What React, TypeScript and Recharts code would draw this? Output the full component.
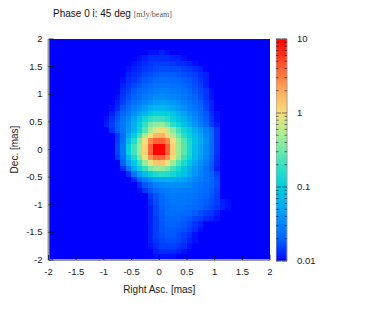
import { Bar, ComposedChart, Scatter, ScatterChart, XAxis, YAxis } from "recharts"

// brightness in mJy/beam, top row first, each row starting at rowStart
const floorValue = 0.01
const gridSize = 40
const rowStart = [
    0, 0, 18, 16, 15, 14, 14, 13, 13, 13,
    12, 12, 11, 11, 10, 10, 11, 12, 12, 12,
    12, 12, 13, 13, 14, 15, 16, 16, 18, 18,
    18, 18, 18, 18, 18, 18, 18, 18, 19, 19,
]
const rowValues = [
    [],
    [],
    [.011, .011, .012, .011],
    [.011, .012, .013, .013, .013, .013, .012, .012, .011],
    [.011, .012, .013, .014, .015, .015, .015, .014, .013, .013, .012, .011],
    [.011, .012, .013, .014, .015, .016, .017, .017, .016, .016, .015, .014, .013, .012],
    [.012, .013, .014, .016, .017, .018, .019, .019, .019, .018, .017, .016, .015, .013, .012],
    [.011, .013, .014, .016, .018, .019, .021, .022, .022, .021, .02, .019, .018, .016, .014, .012],
    [.012, .014, .016, .018, .02, .022, .024, .025, .025, .024, .023, .021, .019, .017, .015, .012],
    [.013, .015, .018, .02, .023, .025, .028, .029, .029, .028, .026, .024, .021, .018, .016, .014, .011],
    [.011, .014, .017, .02, .023, .027, .03, .034, .035, .034, .032, .029, .026, .023, .02, .017, .014, .011],
    [.012, .015, .019, .024, .028, .033, .038, .045, .048, .046, .042, .036, .031, .027, .023, .019, .015, .012],
    [.011, .013, .018, .023, .03, .036, .045, .06, .068, .07, .064, .055, .045, .036, .03, .025, .02, .016, .012],
    [.012, .016, .021, .027, .036, .048, .065, .09, .11, .11, .1, .08, .062, .048, .037, .029, .023, .018, .013, .011],
    [.011, .014, .018, .025, .034, .05, .075, .12, .18, .21, .2, .16, .11, .08, .06, .044, .033, .025, .019, .014, .011],
    [.012, .015, .02, .027, .038, .06, .1, .2, .33, .42, .42, .3, .18, .12, .08, .058, .04, .03, .022, .015, .012],
    [.014, .019, .027, .04, .065, .12, .25, .5, .85, .95, .7, .38, .22, .13, .09, .06, .042, .03, .022, .014],
    [.014, .022, .05, .1, .22, .5, 1, 1.7, 1.8, 1.1, .55, .3, .17, .11, .075, .05, .034, .023, .014],
    [.015, .025, .07, .16, .38, .95, 2.8, 4, 4, 2.8, 1, .45, .24, .14, .085, .055, .036, .023, .014],
    [.016, .028, .105, .22, .45, 1.15, 4, 10, 10, 4, 1.2, .48, .26, .14, .075, .05, .034, .022, .014],
    [.016, .028, .105, .22, .45, 1.15, 3.9, 9.8, 9.8, 3.9, 1.2, .48, .26, .14, .075, .05, .034, .022, .014],
    [.014, .024, .065, .15, .35, .85, 2.5, 3.8, 3.8, 2.5, .95, .42, .21, .12, .07, .046, .032, .021, .013],
    [.02, .045, .09, .2, .42, .85, 1.4, 1.4, .9, .45, .24, .14, .085, .055, .038, .028, .019, .013],
    [.013, .026, .055, .11, .2, .33, .42, .42, .33, .22, .14, .09, .06, .042, .032, .024, .018, .012],
    [.013, .025, .045, .075, .11, .15, .17, .16, .13, .1, .075, .055, .04, .031, .025, .02, .015],
    [.013, .021, .03, .04, .05, .058, .06, .058, .052, .047, .04, .033, .028, .024, .021, .017],
    [.013, .018, .023, .03, .034, .036, .037, .037, .035, .032, .028, .025, .022, .02, .017],
    [.011, .014, .018, .022, .026, .028, .03, .03, .029, .028, .026, .023, .021, .019, .016],
    [.014, .018, .022, .026, .027, .027, .027, .026, .024, .022, .02, .018, .015],
    [.013, .017, .021, .024, .025, .026, .026, .025, .023, .021, .019, .017, .015, .012, .011],
    [.012, .016, .02, .023, .024, .024, .024, .023, .021, .02, .018, .016, .014, .012, .011],
    [.012, .016, .019, .022, .023, .023, .022, .021, .019, .017, .015, .014, .012],
    [.012, .015, .019, .021, .021, .021, .019, .018, .016, .015, .013, .012, .011],
    [.012, .015, .018, .02, .02, .019, .018, .016, .014, .012],
    [.012, .015, .018, .019, .019, .018, .017, .015, .013, .011],
    [.012, .015, .017, .018, .018, .017, .015, .013, .011],
    [.012, .014, .016, .017, .017, .016, .014, .012, .011],
    [.011, .013, .015, .015, .015, .014, .013, .011],
    [.012, .013, .013, .013, .012, .011],
    [.011, .011, .011, .011],
]

const axisTicks = [-2, -1.5, -1, -0.5, 0, 0.5, 1, 1.5, 2]
const barMajorTicks = [0.01, 0.1, 1, 10]
const barMinorTicks = [
    0.02, 0.03, 0.04, 0.05, 0.06, 0.07, 0.08, 0.09,
    0.2, 0.3, 0.4, 0.5, 0.6, 0.7, 0.8, 0.9,
    2, 3, 4, 5, 6, 7, 8, 9,
]

// colour ramp: position along the log scale and colour
const rampStops = [0, 0.03, 0.1, 0.233, 0.333, 0.43, 0.49, 0.57, 0.667, 0.77, 0.85, 0.93, 1]
const rampColors = [
    [0, 0, 255], [0, 35, 255], [0, 100, 255], [0, 165, 245], [0, 208, 222], [50, 225, 195], [105, 232, 172],
    [170, 238, 145], [248, 222, 122], [255, 170, 90], [255, 110, 60], [255, 50, 25], [255, 0, 0],
]

const FRAME = "#9a9a9a"
const TICK = "rgba(15,15,40,0.8)"
const TEXT = "#222"
const FONT = "'Liberation Sans', Arial, sans-serif"

const chartMargin = { top: 39, right: 104, bottom: 24, left: 0 }
const barMargin = { top: 8, right: 0, bottom: 8, left: 0 }
const overlay = { position: "absolute", left: 0, top: 0 } as const
const barOverlay = { position: "absolute", left: 276, top: 31 } as const

function colorFor(value: number) {
    const t = Math.min(1, Math.max(0, (Math.log10(value) + 2) / 3))
    let i = 0
    while (i < rampStops.length - 2 && t > rampStops[i + 1]) i++
    const f = (t - rampStops[i]) / (rampStops[i + 1] - rampStops[i])
    const [a, b] = [rampColors[i], rampColors[i + 1]]
    return `rgb(${a.map((c, k) => Math.round(c + (b[k] - c) * f)).join(",")})`
}

const cells = rowValues.flatMap((row, r) =>
    Array.from({ length: gridSize }, (_, c) => ({
        x: -2 + (c + 0.5) * 0.1,
        y: 2 - (r + 0.5) * 0.1,
        value: row[c - rowStart[r]] ?? floorValue,
    })),
)
const anchorCell = cells.slice(0, 1)

const colorBarData = [{ name: "scale", range: [0.01, 10] }]

function Cell(props: any) {
    const value = props.payload?.value ?? props.value
    return (
        <rect
            x={props.cx - 3}
            y={props.cy - 3}
            width={6}
            height={6}
            fill={colorFor(value)}
            shapeRendering="crispEdges"
        />
    )
}

const NoMark = () => null

const BottomTick = ({ x, y, payload }: any) => (
    <g>
        <line x1={x} x2={x} y1={y} y2={y - 5} stroke={TICK} />
        <text x={x} y={y + 15} textAnchor="middle" fontSize={9.5} fontFamily={FONT} fill={TEXT}>
            {payload.value}
        </text>
    </g>
)
const TopTick = ({ x, y }: any) => <line x1={x} x2={x} y1={y} y2={y + 5} stroke={TICK} />
const LeftTick = ({ x, y, payload }: any) => (
    <g>
        <line x1={x} x2={x + 5} y1={y} y2={y} stroke={TICK} />
        <text x={x - 6} y={y + 3} textAnchor="end" fontSize={9.5} fontFamily={FONT} fill={TEXT}>
            {payload.value}
        </text>
    </g>
)
const RightTick = ({ x, y }: any) => <line x1={x} x2={x - 5} y1={y} y2={y} stroke={TICK} />

const BarTick = ({ x, y, payload }: any) => {
    const major = barMajorTicks.includes(payload.value)
    const len = major ? 5 : 2.5
    return (
        <g>
            <line x1={x - 11} x2={x - 11 + len} y1={y} y2={y} stroke={TICK} strokeWidth={0.7} />
            <line x1={x} x2={x - len} y1={y} y2={y} stroke={TICK} strokeWidth={0.7} />
            {major && (
                <text x={x + 10} y={y + 3} fontSize={9.5} fontFamily={FONT} fill={TEXT}>
                    {payload.value}
                </text>
            )}
        </g>
    )
}

export default function App() {
    return (
        <div style={{ position: "absolute", left: 0, top: 0, width: 374, height: 314, background: "#fff" }}>
            <div
                style={{
                    position: "absolute",
                    left: 53,
                    top: 8,
                    fontFamily: FONT,
                    fontSize: 10,
                    lineHeight: "12px",
                    color: "#111",
                    whiteSpace: "nowrap",
                }}
            >
                Phase 0 i: 45 deg{" "}
                <span style={{ fontFamily: "'Liberation Serif', serif", fontSize: 8, color: "#555" }}>[mJy/beam]</span>
            </div>

            {/* map cells underneath, the axes go in a second chart on top so ticks stay visible */}
            <ScatterChart width={374} height={314} margin={chartMargin} style={overlay}>
                <XAxis type="number" dataKey="x" domain={[-2, 2]} height={30} tick={false} axisLine={false} />
                <YAxis type="number" dataKey="y" domain={[-2, 2]} width={48.5} tick={false} axisLine={false} />
                <Scatter data={cells} shape={Cell} isAnimationActive={false} />
            </ScatterChart>

            <ScatterChart width={374} height={314} margin={chartMargin} style={overlay}>
                <XAxis
                    type="number"
                    dataKey="x"
                    domain={[-2, 2]}
                    ticks={axisTicks}
                    interval={0}
                    height={30}
                    tick={BottomTick}
                    tickLine={false}
                    tickSize={0}
                    tickMargin={0}
                    axisLine={{ stroke: FRAME, strokeWidth: 2 }}
                    label={{ value: "Right Asc. [mas]", position: "bottom", offset: -4, fontSize: 10, fontFamily: FONT, fill: TEXT }}
                />
                <XAxis
                    xAxisId="top"
                    orientation="top"
                    type="number"
                    dataKey="x"
                    domain={[-2, 2]}
                    ticks={axisTicks}
                    interval={0}
                    height={0}
                    tick={TopTick}
                    tickLine={false}
                    tickSize={0}
                    tickMargin={0}
                    axisLine={{ stroke: FRAME, strokeWidth: 2 }}
                />
                <YAxis
                    type="number"
                    dataKey="y"
                    domain={[-2, 2]}
                    ticks={axisTicks}
                    interval={0}
                    width={48.5}
                    tick={LeftTick}
                    tickLine={false}
                    tickSize={0}
                    tickMargin={0}
                    axisLine={{ stroke: FRAME, strokeWidth: 2 }}
                    label={{ value: "Dec. [mas]", angle: -90, position: "insideLeft", offset: 14, style: { textAnchor: "middle" }, fontSize: 10, fontFamily: FONT, fill: TEXT }}
                />
                <YAxis
                    yAxisId="right"
                    orientation="right"
                    type="number"
                    dataKey="y"
                    domain={[-2, 2]}
                    ticks={axisTicks}
                    interval={0}
                    width={0}
                    tick={RightTick}
                    tickLine={false}
                    tickSize={0}
                    tickMargin={0}
                    axisLine={{ stroke: FRAME, strokeWidth: 2 }}
                />
                <Scatter data={anchorCell} shape={NoMark} isAnimationActive={false} />
                <Scatter data={anchorCell} xAxisId="top" yAxisId="right" shape={NoMark} isAnimationActive={false} />
            </ScatterChart>

            <ComposedChart
                width={98}
                height={238}
                data={colorBarData}
                margin={barMargin}
                barCategoryGap={0}
                style={barOverlay}
            >
                <defs>
                    <linearGradient id="colorScale" x1="0" y1="1" x2="0" y2="0">
                        {rampStops.map((stop, i) => (
                            <stop key={stop} offset={stop} stopColor={`rgb(${rampColors[i].join(",")})`} />
                        ))}
                    </linearGradient>
                </defs>
                <XAxis dataKey="name" hide />
                <YAxis orientation="right" scale="log" type="number" domain={[0.01, 10]} width={87} tick={false} axisLine={false} />
                <Bar dataKey="range" fill="url(#colorScale)" stroke={FRAME} isAnimationActive={false} />
            </ComposedChart>

            <ComposedChart width={98} height={238} data={colorBarData} margin={barMargin} barCategoryGap={0} style={barOverlay}>
                <XAxis dataKey="name" hide />
                <YAxis
                    orientation="right"
                    scale="log"
                    type="number"
                    domain={[0.01, 10]}
                    ticks={[...barMajorTicks, ...barMinorTicks]}
                    interval={0}
                    width={87}
                    tick={BarTick}
                    tickLine={false}
                    axisLine={false}
                    tickSize={0}
                    tickMargin={0}
                />
                <Bar dataKey="range" fill="none" isAnimationActive={false} />
            </ComposedChart>
        </div>
    )
}
